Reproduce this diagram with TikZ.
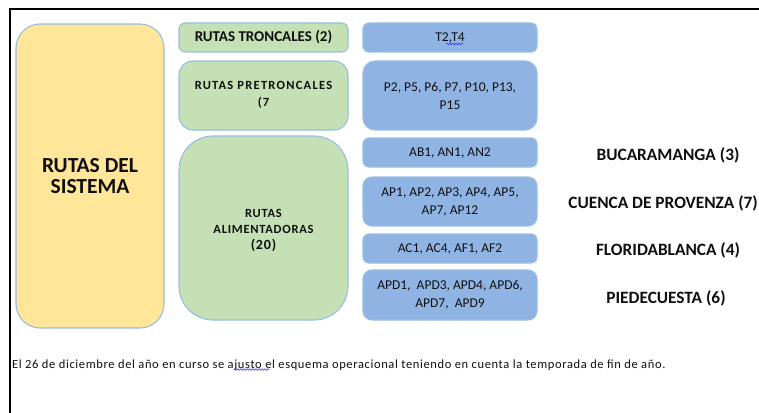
\documentclass[tikz,border=0pt]{standalone}
\usepackage{fontspec}
\setmainfont{Carlito}
\usetikzlibrary{decorations.pathmorphing}
\definecolor{yel}{RGB}{255,230,153}
\definecolor{grn}{RGB}{197,224,180}
\definecolor{blu}{RGB}{143,180,227}
\definecolor{edgec}{RGB}{150,190,228}
\definecolor{txt}{RGB}{15,15,15}
\begin{document}
\begin{tikzpicture}[x=1pt,y=-1pt,
  box/.style={draw=edgec, line width=1.1pt, inner sep=0pt, align=center, text=txt},
  ybox/.style={box, fill=yel, font=\fontsize{21.5}{21}\selectfont\bfseries},
  gbox/.style={box, fill=grn, minimum width=169pt},
  bbox/.style={box, fill=blu, minimum width=174pt, rounded corners=6pt, font=\fontsize{13.5}{18}\selectfont},
  region/.style={inner sep=0pt, text=txt, font=\fontsize{17.3}{18}\selectfont\bfseries},
  spaced/.style={inner sep=0pt, align=center, text=txt},
  spell/.style={draw=blue!80, line width=0.6pt, decorate, decoration={snake, amplitude=0.8pt, segment length=3pt}}]
\useasboundingbox (0,0) rectangle (759,412);
\clip (0,0) rectangle (759,412);
\fill[white] (0,0) rectangle (759,412);
\draw[line width=2pt] (9.5,413) -- (9.5,9.5) -- (760,9.5);

\node[ybox, minimum width=148pt, minimum height=304pt, rounded corners=24pt] (sistema) at (90,176) {RUTAS DEL\\SISTEMA};

\node[gbox, minimum height=29pt, rounded corners=6pt, font=\fontsize{15}{15}\selectfont\bfseries] (troncales) at (263.5,37.5) {RUTAS TRONCALES (2)};
\node[gbox, minimum height=69pt, rounded corners=14pt] (pretroncales) at (263.5,95.5) {};
\node[spaced, font=\fontsize{12.5}{17}\selectfont\bfseries\addfontfeatures{LetterSpace=10}] (pretext) at (263.5,95) {RUTAS PRETRONCALES\\(7};
\node[gbox, minimum height=184pt, rounded corners=34pt] (alimentadoras) at (263.5,228) {};
\node[spaced, font=\fontsize{12.5}{16}\selectfont\bfseries\addfontfeatures{LetterSpace=6}] (alimtext) at (263.5,230.5) {RUTAS\\ALIMENTADORAS\\{\fontsize{14}{16}\selectfont(20)}};

\node[bbox, minimum height=29pt] (b1) at (450,37.5) {T2,T4};
\node[bbox, minimum height=69pt, rounded corners=12pt] (b2) at (450,95.5) {P2, P5, P6, P7, P10, P13,\\P15};
\node[bbox, minimum height=29pt] (b3) at (450,152.5) {AB1, AN1, AN2};
\node[bbox, minimum height=49pt, rounded corners=9pt] (b4) at (450,201.5) {AP1, AP2, AP3, AP4, AP5,\\AP7, AP12};
\node[bbox, minimum height=29pt] (b5) at (450,248.5) {AC1, AC4, AF1, AF2};
\node[bbox, minimum height=50pt, rounded corners=9pt] (b6) at (450,295) {APD1,\ \ APD3, APD4, APD6,\\APD7,\ \ APD9};

\node[region] (bucaramanga) at (668,155) {BUCARAMANGA (3)};
\node[region, anchor=east] (cuenca) at (758,203) {CUENCA DE PROVENZA (7)};
\node[region] (floridablanca) at (668,250) {FLORIDABLANCA (4)};
\node[region] (piedecuesta) at (666,298) {PIEDECUESTA (6)};

\node[anchor=west, inner sep=0pt, text=txt, font=\fontsize{12.5}{14}\selectfont\addfontfeatures{LetterSpace=5}] (nota) at (12,365) {El 26 de diciembre del año en curso se ajusto el esquema operacional teniendo en cuenta la temporada de fin de año.};

\draw[spell] (446,44) -- (463,44);
\draw[spell] (234,369.5) -- (269,369.5);
\end{tikzpicture}
\end{document}
